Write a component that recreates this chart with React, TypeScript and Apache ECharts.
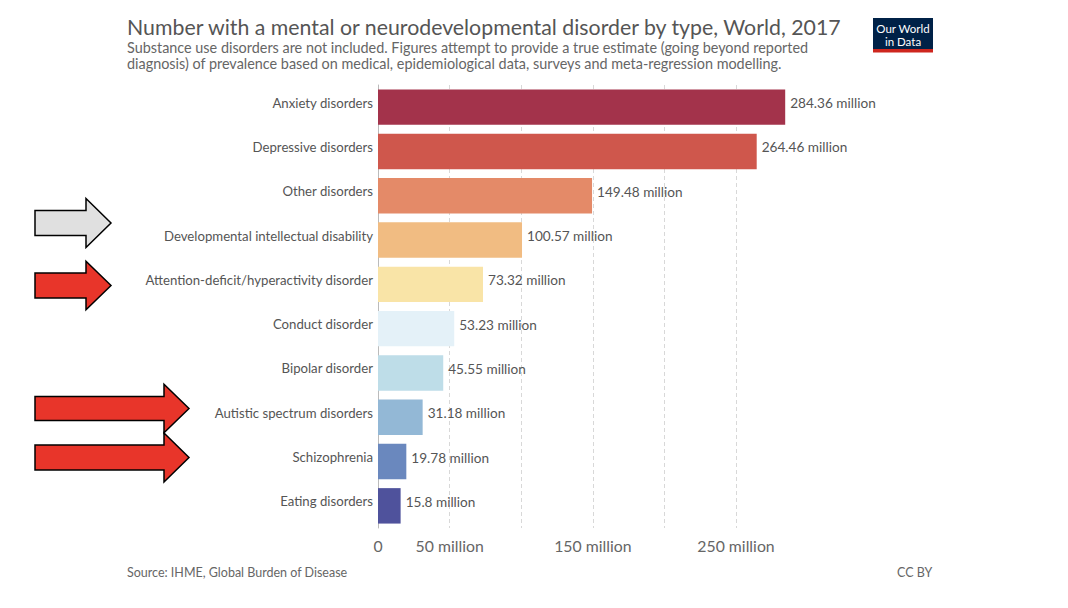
import React, { useEffect, useRef } from "react";
import * as echarts from "echarts";

const categories = [
  "Anxiety disorders",
  "Depressive disorders",
  "Other disorders",
  "Developmental intellectual disability",
  "Attention-deficit/hyperactivity disorder",
  "Conduct disorder",
  "Bipolar disorder",
  "Autistic spectrum disorders",
  "Schizophrenia",
  "Eating disorders",
];

const values = [284.36, 264.46, 149.48, 100.57, 73.32, 53.23, 45.55, 31.18, 19.78, 15.8];

const barColors = [
  "#a3334b",
  "#cf574c",
  "#e48a68",
  "#f1bc82",
  "#f9e4a7",
  "#e4f1f8",
  "#bedde8",
  "#93b8d6",
  "#6a88be",
  "#4f529c",
];

const tickLabels: Record<number, string> = {
  0: "0",
  50: "50 million",
  150: "150 million",
  250: "250 million",
};

const FONT = "Lato, 'Noto Sans', sans-serif";

// Block arrow pointing right: shaft from x0 to headX, head up to tipX
function arrow(x0: number, headX: number, tipX: number, cy: number, shaftH: number, headH: number, fill: string) {
  return {
    type: "polygon",
    silent: true,
    shape: {
      points: [
        [x0, cy - shaftH / 2],
        [headX, cy - shaftH / 2],
        [headX, cy - headH / 2],
        [tipX, cy],
        [headX, cy + headH / 2],
        [headX, cy + shaftH / 2],
        [x0, cy + shaftH / 2],
      ],
    },
    style: { fill, stroke: "#000", lineWidth: 1.5 },
    z: 10,
  };
}

export default function App() {
  const ref = useRef<HTMLDivElement>(null);

  useEffect(() => {
    document.body.style.margin = "0";
    const chart = echarts.init(ref.current!, null, { renderer: "svg" });
    chart.setOption({
      animation: false,
      backgroundColor: "#fff",
      textStyle: { fontFamily: FONT },
      title: {
        left: 127,
        top: 16,
        padding: 0,
        text: "Number with a mental or neurodevelopmental disorder by type, World, 2017",
        subtext:
          "Substance use disorders are not included. Figures attempt to provide a true estimate (going beyond reported\ndiagnosis) of prevalence based on medical, epidemiological data, surveys and meta-regression modelling.",
        itemGap: 2,
        textStyle: { fontFamily: FONT, fontSize: 21.3, fontWeight: "normal", color: "#555" },
        subtextStyle: { fontFamily: FONT, fontSize: 14.4, color: "#666", lineHeight: 16.5 },
      },
      grid: { left: 378, top: 85, width: 407.2, height: 443, containLabel: false },
      xAxis: {
        type: "value",
        min: 0,
        max: "dataMax",
        interval: 50,
        axisLine: { show: false },
        axisTick: { show: false },
        splitLine: {
          show: true,
          showMinLine: false,
          showMaxLine: false,
          lineStyle: { color: "#d8d8d8", type: [4, 3], width: 1 },
        },
        axisLabel: {
          color: "#666",
          fontSize: 15.8,
          fontFamily: FONT,
          margin: 9,
          showMaxLabel: false,
          formatter: (v: number) => tickLabels[v] ?? "",
        },
      },
      yAxis: {
        type: "category",
        data: categories,
        inverse: true,
        axisTick: { show: false },
        axisLine: { show: true, lineStyle: { color: "#bbb", width: 1 } },
        axisLabel: {
          color: "#555",
          fontSize: 13.2,
          fontFamily: FONT,
          margin: 5,
          verticalAlign: "bottom",
          lineHeight: 9,
        },
      },
      series: [
        {
          type: "bar",
          data: values.map((v, i) => ({ value: v, itemStyle: { color: barColors[i] } })),
          barCategoryGap: "20%",
          label: {
            show: true,
            position: "right",
            distance: 5,
            offset: [0, -4],
            color: "#555",
            fontSize: 13.6,
            fontFamily: FONT,
            formatter: (p: any) => `${p.value} million`,
          },
        },
      ],
      graphic: [
        {
          type: "text",
          left: 127,
          top: 566,
          style: { text: "Source: IHME, Global Burden of Disease", fill: "#666", fontSize: 12.5, fontFamily: FONT },
        },
        {
          type: "text",
          left: 897,
          top: 566,
          style: { text: "CC BY", fill: "#666", fontSize: 12.5, fontFamily: FONT },
        },
        {
          type: "group",
          left: 873,
          top: 18,
          children: [
            { type: "rect", shape: { x: 0, y: 0, width: 60, height: 31 }, style: { fill: "#002147" } },
            { type: "rect", shape: { x: 0, y: 31, width: 60, height: 3.5 }, style: { fill: "#ce261e" } },
            {
              type: "text",
              x: 30,
              y: 10.5,
              style: {
                text: "Our World",
                fill: "#fff",
                fontSize: 11.5,
                lineHeight: 11.5,
                fontFamily: FONT,
                align: "center",
                verticalAlign: "middle",
              },
            },
            {
              type: "text",
              x: 30,
              y: 23,
              style: {
                text: "in Data",
                fill: "#fff",
                fontSize: 11.5,
                lineHeight: 11.5,
                fontFamily: FONT,
                align: "center",
                verticalAlign: "middle",
              },
            },
          ],
        },
        arrow(35, 86, 111, 223, 25, 49, "#e0e0e0"),
        arrow(35, 86, 111, 285.5, 25, 48.5, "#e8352a"),
        arrow(35, 164, 189, 408.5, 24, 48.5, "#e8352a"),
        arrow(35, 164, 189, 457.5, 25, 49, "#e8352a"),
      ],
    });
    return () => chart.dispose();
  }, []);

  return <div ref={ref} style={{ width: 1068, height: 608 }} />;
}
